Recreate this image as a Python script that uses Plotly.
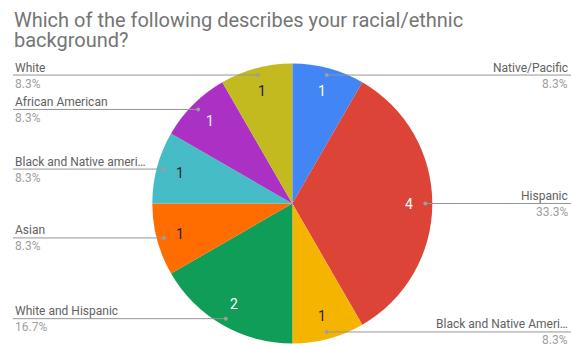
import math
import plotly.graph_objects as go

W, H = 571, 347

categories = ["Native/Pacific", "Hispanic", "Black and Native Ameri…", "White and Hispanic",
              "Asian", "Black and Native ameri…", "African American", "White"]
values = [1, 4, 1, 2, 1, 1, 1, 1]
colors = ["#4285F4", "#DB4437", "#F4B400", "#0F9D58", "#FF6D01", "#46BDC6", "#AB30C4", "#C2BA1F"]
text_colors = ["#FFFFFF", "#FFFFFF", "#222222", "#FFFFFF", "#222222", "#222222", "#FFFFFF", "#222222"]
title_lines = ["Which of the following describes your racial/ethnic", "background?"]

# geometry (window pixels)
cx, cy, R = 292.3, 203.5, 140.0
left_x, right_x = 13, 570

def px(x):
    return x / W

def py(y):
    return 1 - y / H

fig = go.Figure()
fig.add_trace(go.Pie(
    labels=categories, values=values, sort=False, direction="clockwise", rotation=0,
    marker=dict(colors=colors, line=dict(width=0)),
    textinfo="none", hoverinfo="label+value+percent",
    domain=dict(x=[px(cx - R), px(cx + R)], y=[py(cy + R), py(cy - R)]),
    showlegend=False,
))

shapes = []
annotations = []
total = sum(values)
cum = 0
for cat, v, tc in zip(categories, values, text_colors):
    th = 2 * math.pi * (cum + v / 2) / total
    cum += v
    s, c = math.sin(th), math.cos(th)
    rt = 0.83 * R
    annotations.append(dict(x=px(cx + rt * s), y=py(cy - rt * c), xref="paper", yref="paper",
                            text=str(v), showarrow=False, xanchor="center", yanchor="middle",
                            font=dict(family="Roboto", size=14, color=tc)))
    rd = 0.95 * R
    dx, dy = cx + rd * s, cy - rd * c
    right = s > 1e-9
    ex = right_x if right else left_x
    shapes.append(dict(type="line", xref="paper", yref="paper", x0=px(dx), y0=py(dy),
                       x1=px(W) if right else px(left_x), y1=py(dy),
                       line=dict(color="#959595", width=1), layer="above"))
    shapes.append(dict(type="circle", xref="paper", yref="paper",
                       x0=px(dx - 2), x1=px(dx + 2), y0=py(dy + 2), y1=py(dy - 2),
                       fillcolor="#9E9E9E", line=dict(width=0), layer="above"))
    anchor = "right" if right else "left"
    pct = f"{100 * v / total:.1f}%"
    annotations.append(dict(x=px(ex), y=py(dy - 7.5), xref="paper", yref="paper", text=cat,
                            showarrow=False, xanchor=anchor, yanchor="middle",
                            font=dict(family="Roboto", size=12, color="#616161")))
    annotations.append(dict(x=px(ex), y=py(dy + 8.5), xref="paper", yref="paper", text=pct,
                            showarrow=False, xanchor=anchor, yanchor="middle",
                            font=dict(family="Roboto", size=12, color="#9E9E9E")))

for i, line in enumerate(title_lines):
    annotations.append(dict(x=px(12), y=py(20 + 19.5 * i), xref="paper", yref="paper", text=line,
                            showarrow=False, xanchor="left", yanchor="middle",
                            font=dict(family="Roboto", size=20, color="#757575")))

fig.update_layout(
    width=W, height=H, margin=dict(l=0, r=0, t=0, b=0),
    paper_bgcolor="#FFFFFF", plot_bgcolor="#FFFFFF",
    shapes=shapes, annotations=annotations, showlegend=False,
)
fig.write_html("out.html", config={"displayModeBar": False},
               post_script="document.body.style.margin='0';document.body.style.overflow='hidden';")
